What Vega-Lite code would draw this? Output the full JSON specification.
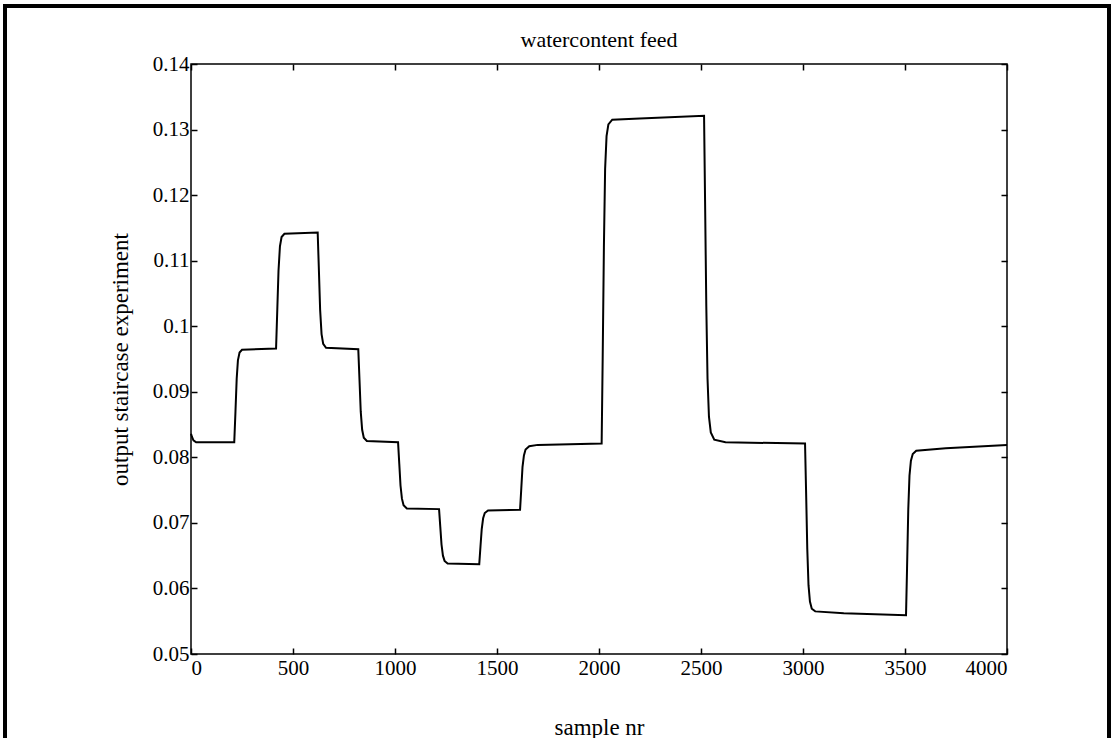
{
  "$schema": "https://vega.github.io/schema/vega-lite/v6.json",
  "width": 816,
  "height": 590,
  "autosize": "none",
  "padding": {"left": 191, "top": 64, "right": 106, "bottom": 84},
  "background": "white",
  "title": {
    "text": "watercontent feed",
    "font": "Liberation Serif",
    "fontSize": 22,
    "fontWeight": "normal",
    "color": "black",
    "anchor": "middle",
    "baseline": "alphabetic",
    "offset": -65
  },
  "config": {
    "view": {"stroke": "black", "strokeWidth": 1.5},
    "axis": {
      "labelFont": "Liberation Serif",
      "labelFontSize": 21,
      "labelColor": "black",
      "titleFont": "Liberation Serif",
      "titleFontSize": 23,
      "titleFontWeight": "normal",
      "titleColor": "black",
      "domain": false,
      "grid": false,
      "tickColor": "black",
      "tickWidth": 1.5,
      "tickSize": -6
    }
  },
  "data": {
    "values": [
      {"sample": 0, "output": 0.0836}, {"sample": 5, "output": 0.0831}, {"sample": 12, "output": 0.0826}, {"sample": 25, "output": 0.0823}, {"sample": 212, "output": 0.0823},
      {"sample": 218, "output": 0.0870}, {"sample": 224, "output": 0.0920}, {"sample": 230, "output": 0.0948}, {"sample": 238, "output": 0.0960}, {"sample": 250, "output": 0.0964}, {"sample": 417, "output": 0.0966},
      {"sample": 423, "output": 0.1025}, {"sample": 429, "output": 0.1085}, {"sample": 436, "output": 0.1122}, {"sample": 444, "output": 0.1136}, {"sample": 458, "output": 0.1141}, {"sample": 621, "output": 0.1143},
      {"sample": 627, "output": 0.1085}, {"sample": 633, "output": 0.1025}, {"sample": 640, "output": 0.0988}, {"sample": 648, "output": 0.0973}, {"sample": 662, "output": 0.0967}, {"sample": 820, "output": 0.0965},
      {"sample": 826, "output": 0.0918}, {"sample": 832, "output": 0.0870}, {"sample": 839, "output": 0.0842}, {"sample": 847, "output": 0.0830}, {"sample": 862, "output": 0.0825}, {"sample": 1015, "output": 0.0823},
      {"sample": 1021, "output": 0.0790}, {"sample": 1027, "output": 0.0757}, {"sample": 1034, "output": 0.0737}, {"sample": 1042, "output": 0.0727}, {"sample": 1058, "output": 0.0722}, {"sample": 1216, "output": 0.0721},
      {"sample": 1222, "output": 0.0694}, {"sample": 1228, "output": 0.0667}, {"sample": 1235, "output": 0.0650}, {"sample": 1243, "output": 0.0642}, {"sample": 1258, "output": 0.0638}, {"sample": 1413, "output": 0.0637},
      {"sample": 1419, "output": 0.0664}, {"sample": 1425, "output": 0.0690}, {"sample": 1432, "output": 0.0707}, {"sample": 1440, "output": 0.0715}, {"sample": 1456, "output": 0.0719}, {"sample": 1613, "output": 0.0720},
      {"sample": 1619, "output": 0.0752}, {"sample": 1625, "output": 0.0785}, {"sample": 1632, "output": 0.0803}, {"sample": 1640, "output": 0.0812}, {"sample": 1658, "output": 0.0817}, {"sample": 1700, "output": 0.0819}, {"sample": 2013, "output": 0.0821},
      {"sample": 2018, "output": 0.0950}, {"sample": 2024, "output": 0.1120}, {"sample": 2030, "output": 0.1240}, {"sample": 2037, "output": 0.1290}, {"sample": 2046, "output": 0.1308}, {"sample": 2065, "output": 0.1315}, {"sample": 2200, "output": 0.1317}, {"sample": 2515, "output": 0.1321},
      {"sample": 2520, "output": 0.1190}, {"sample": 2526, "output": 0.1030}, {"sample": 2532, "output": 0.0920}, {"sample": 2539, "output": 0.0862}, {"sample": 2548, "output": 0.0838}, {"sample": 2565, "output": 0.0827}, {"sample": 2620, "output": 0.0823}, {"sample": 3010, "output": 0.0821},
      {"sample": 3015, "output": 0.0750}, {"sample": 3021, "output": 0.0660}, {"sample": 3027, "output": 0.0605}, {"sample": 3034, "output": 0.0580}, {"sample": 3043, "output": 0.0569}, {"sample": 3060, "output": 0.0565}, {"sample": 3200, "output": 0.0562}, {"sample": 3505, "output": 0.0559},
      {"sample": 3510, "output": 0.0630}, {"sample": 3516, "output": 0.0720}, {"sample": 3522, "output": 0.0772}, {"sample": 3529, "output": 0.0795}, {"sample": 3538, "output": 0.0805}, {"sample": 3555, "output": 0.0810}, {"sample": 3700, "output": 0.0814}, {"sample": 4000, "output": 0.0819}
    ]
  },
  "resolve": {"axis": {"x": "independent", "y": "independent"}},
  "layer": [
    {
      "mark": {"type": "line", "color": "black", "strokeWidth": 2},
      "encoding": {
        "x": {
          "field": "sample", "type": "quantitative",
          "scale": {"domain": [0, 4000], "nice": false, "zero": false},
          "axis": {"orient": "bottom", "values": [0, 500, 1000, 1500, 2000, 2500, 3000, 3500, 4000], "format": "d", "labelPadding": 9, "title": "sample nr", "titlePadding": 38}
        },
        "y": {
          "field": "output", "type": "quantitative",
          "scale": {"domain": [0.05, 0.14], "nice": false, "zero": false},
          "axis": {"orient": "left", "values": [0.05, 0.06, 0.07, 0.08, 0.09, 0.1, 0.11, 0.12, 0.13, 0.14], "format": "~g", "labelPadding": 8, "title": "output staircase experiment", "titlePadding": 20}
        }
      }
    },
    {
      "mark": {"type": "line", "strokeOpacity": 0},
      "encoding": {
        "x": {
          "field": "sample", "type": "quantitative",
          "scale": {"domain": [0, 4000], "nice": false, "zero": false},
          "axis": {"orient": "top", "values": [0, 500, 1000, 1500, 2000, 2500, 3000, 3500, 4000], "labels": false, "title": null}
        },
        "y": {
          "field": "output", "type": "quantitative",
          "scale": {"domain": [0.05, 0.14], "nice": false, "zero": false},
          "axis": {"orient": "right", "values": [0.05, 0.06, 0.07, 0.08, 0.09, 0.1, 0.11, 0.12, 0.13, 0.14], "labels": false, "title": null}
        }
      }
    },
    {
      "mark": {"type": "rect", "fill": null, "stroke": "black", "strokeWidth": 3, "clip": false},
      "encoding": {
        "x": {"datum": -912, "type": "quantitative", "scale": {"domain": [0, 4000], "nice": false, "zero": false}, "axis": null},
        "x2": {"datum": 4500},
        "y": {"datum": 0.14885, "type": "quantitative", "scale": {"domain": [0.05, 0.14], "nice": false, "zero": false}, "axis": null},
        "y2": {"datum": 0.035}
      }
    }
  ]
}
